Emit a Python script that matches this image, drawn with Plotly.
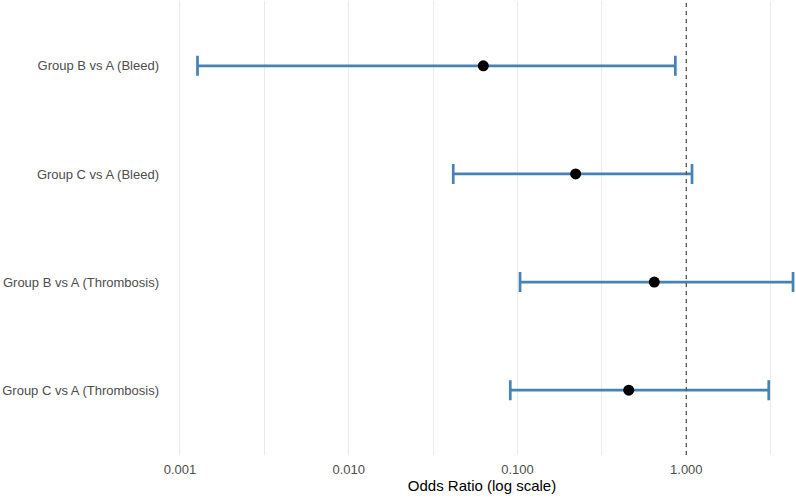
import plotly.graph_objects as go

comparisons = ["Group B vs A (Bleed)", "Group C vs A (Bleed)",
               "Group B vs A (Thrombosis)", "Group C vs A (Thrombosis)"]
odds_ratio = [0.0627, 0.221, 0.646, 0.456]
ci_lower = [0.00127, 0.0416, 0.1035, 0.0906]
ci_upper = [0.861, 1.081, 4.29, 3.08]

reference_or = 1.0

major_ticks = [0.001, 0.01, 0.1, 1]
major_labels = ["0.001", "0.010", "0.100", "1.000"]
minor_ticks = [0.00316, 0.0316, 0.316, 3.16]

err_plus = [u - o for u, o in zip(ci_upper, odds_ratio)]
err_minus = [o - l for o, l in zip(odds_ratio, ci_lower)]

fig = go.Figure()

# reference line at OR = 1 on an overlay axis spanning the full panel height
fig.add_trace(go.Scatter(
    x=[reference_or, reference_or], y=[0, 1], mode="lines",
    line=dict(color="#555555", width=1.3, dash="4px,4px"),
    xaxis="x", yaxis="y2", showlegend=False, hoverinfo="skip",
))

fig.add_trace(go.Scatter(
    x=odds_ratio, y=comparisons, mode="markers",
    marker=dict(color="black", size=11),
    error_x=dict(type="data", symmetric=False, array=err_plus, arrayminus=err_minus,
                 color="#4682B4", thickness=2.7, width=10),
    showlegend=False,
))

fig.update_layout(
    width=796, height=498,
    margin=dict(l=168, r=0, t=1, b=43),
    plot_bgcolor="white", paper_bgcolor="white",
    font=dict(family="Liberation Sans, Arial, sans-serif", size=13, color="#4D4D4D"),
    xaxis=dict(
        type="log", range=[-3.071, 0.650], automargin=False,
        tickmode="array", tickvals=major_ticks, ticktext=major_labels,
        showgrid=True, gridcolor="#EBEBEB", gridwidth=1.2,
        minor=dict(tickmode="array", tickvals=minor_ticks, showgrid=True,
                   gridcolor="#EBEBEB", gridwidth=1.2),
        zeroline=False, showline=False, ticks="",
        ticklabelstandoff=5,
        title=dict(text="Odds Ratio (log scale)", font=dict(size=15, color="black"), standoff=4),
    ),
    yaxis=dict(
        type="category", categoryorder="array", categoryarray=comparisons,
        range=[3.6, -0.6], showgrid=False, zeroline=False, showline=False, ticks="",
        ticklabelstandoff=8, automargin=False,
    ),
    yaxis2=dict(overlaying="y", range=[0, 1], visible=False, fixedrange=True),
)

fig.write_html("out.html",
               config={"displayModeBar": False},
               post_script="document.body.style.margin='0';document.body.style.overflow='hidden';")
